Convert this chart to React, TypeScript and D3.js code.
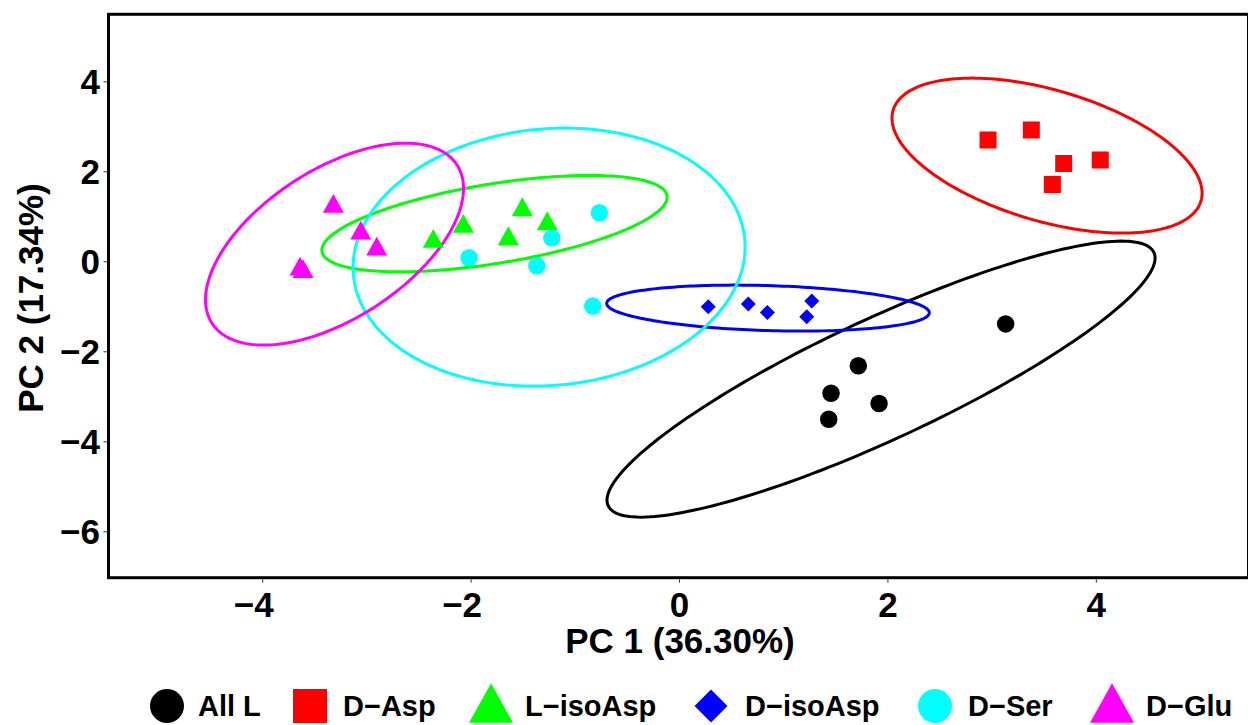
import React from "react";
import * as d3 from "d3";

// ---- data (PC scores) ----
const groups = ["All L", "D−Asp", "L−isoAsp", "D−isoAsp", "D−Ser", "D−Glu"];
const colors = ["#000000", "#FF0000", "#00FF00", "#0000FF", "#00FFFF", "#FF00FF"];
const shapes = ["circle", "square", "triangle", "diamond", "circle", "triangle"];

const allL_x = [3.13, 1.716, 1.454, 1.915, 1.432];
const allL_y = [-1.38, -2.31, -2.92, -3.15, -3.5];
const dAsp_x = [2.961, 3.376, 3.687, 4.038, 3.578];
const dAsp_y = [2.704, 2.927, 2.187, 2.26, 1.72];
const lIsoAsp_x = [-2.363, -2.075, -1.643, -1.509, -1.269];
const lIsoAsp_y = [0.52, 0.853, 0.578, 1.222, 0.911];
const dIsoAsp_x = [0.276, 0.66, 0.843, 1.269, 1.221];
const dIsoAsp_y = [-1.0, -0.94, -1.124, -0.873, -1.222];
const dSer_x = [-0.77, -1.226, -2.02, -1.37, -0.833];
const dSer_y = [1.089, 0.533, 0.089, -0.089, -0.984];
const dGlu_x = [-3.322, -3.059, -2.906, -3.642, -3.613];
const dGlu_y = [1.298, 0.704, 0.349, -0.096, -0.151];

const seriesX = [allL_x, dAsp_x, lIsoAsp_x, dIsoAsp_x, dSer_x, dGlu_x];
const seriesY = [allL_y, dAsp_y, lIsoAsp_y, dIsoAsp_y, dSer_y, dGlu_y];

// confidence ellipses: centre, half-width (x), half-height (y), correlation (data units)
const ellCx = [1.934, 3.527, -1.776, 0.849, -1.252, -3.311];
const ellCy = [-2.607, 2.36, 0.849, -1.029, 0.104, 0.393];
const ellRx = [2.63, 1.488, 1.657, 1.548, 1.881, 1.238];
const ellRy = [3.067, 1.722, 1.071, 0.511, 2.867, 2.244];
const ellRho = [0.877, -0.484, 0.55, -0.204, 0.08, 0.55];

const xTicks = [-4, -2, 0, 2, 4];
const yTicks = [4, 2, 0, -2, -4, -6];
const xTitle = "PC 1 (36.30%)";
const yTitle = "PC 2 (17.34%)";

const W = 1248;
const H = 725;
const left = 108.5;
const right = 1248.5;
const top = 14.3;
const bottom = 577.7;

const FONT = "'Liberation Sans', Arial, Helvetica, sans-serif";

function fmt(v: number) {
  return v < 0 ? "\u2212" + Math.abs(v) : String(v);
}

function markerPath(shape: string, size: number): string {
  const s = size / 2;
  if (shape === "circle") {
    return `M${-s},0A${s},${s} 0 1,0 ${s},0A${s},${s} 0 1,0 ${-s},0Z`;
  }
  if (shape === "square") {
    return `M${-s},${-s}L${s},${-s}L${s},${s}L${-s},${s}Z`;
  }
  if (shape === "diamond") {
    return `M0,${-s}L${s},0L0,${s}L${-s},0Z`;
  }
  const h = size * 0.9;
  return `M0,${-h / 2}L${s},${h / 2}L${-s},${h / 2}Z`;
}

const pointSize: Record<string, number> = { circle: 17.5, square: 17, triangle: 21, diamond: 15 };
const legendSize: Record<string, number> = { circle: 34, square: 34, triangle: 44, diamond: 33 };

const legendMarkerX = [167, 310, 491, 711, 935, 1112];
const legendTextX = [198, 343, 525, 745, 968, 1146];

export default function App() {
  const x = d3.scaleLinear().domain([-5.48, 5.45]).range([left, left + 10.93 * 104.2]);
  const y = d3.scaleLinear().domain([-7.02, 5.5]).range([bottom, top]);

  const line = d3
    .line<[number, number]>()
    .x((d) => x(d[0]))
    .y((d) => y(d[1]))
    .curve(d3.curveLinearClosed);

  const ellipses = ellCx.map((cx, i) => {
    const pts: [number, number][] = d3.range(0, 200).map((k) => {
      const t = (k / 200) * 2 * Math.PI;
      const r = ellRho[i];
      return [
        cx + ellRx[i] * Math.cos(t),
        ellCy[i] + ellRy[i] * (r * Math.cos(t) + Math.sqrt(1 - r * r) * Math.sin(t)),
      ];
    });
    return line(pts) as string;
  });

  return (
    <svg
      width={W}
      height={H}
      style={{ position: "absolute", left: 0, top: 0, background: "#fff" }}
      fontFamily={FONT}
    >
      <rect x={0} y={0} width={W} height={H} fill="#fff" />
      <defs>
        <clipPath id="panel">
          <rect x={left} y={top} width={right - left} height={bottom - top} />
        </clipPath>
      </defs>

      <g clipPath="url(#panel)">
        {ellipses.map((d, i) => (
          <path key={"e" + i} d={d} fill="none" stroke={colors[i]} strokeWidth={3} />
        ))}
        {seriesX.map((xs, gi) =>
          xs.map((vx, j) => (
            <path
              key={"p" + gi + "-" + j}
              d={markerPath(shapes[gi], pointSize[shapes[gi]])}
              transform={`translate(${x(vx)},${y(seriesY[gi][j])})`}
              fill={colors[gi]}
            />
          ))
        )}
      </g>

      <rect
        x={left}
        y={top}
        width={right - left}
        height={bottom - top}
        fill="none"
        stroke="#000"
        strokeWidth={3}
      />

      {xTicks.map((t) => (
        <g key={"xt" + t}>
          <line x1={x(t)} x2={x(t)} y1={bottom + 1.5} y2={bottom + 5} stroke="#333" strokeWidth={1} />
          <text
            x={x(t) - (t < 0 ? 9 : 0)}
            y={617}
            textAnchor="middle"
            fontSize={35}
            fontWeight="bold"
            fill="#000"
          >
            {fmt(t)}
          </text>
        </g>
      ))}
      <text x={680} y={653} textAnchor="middle" fontSize={35} fontWeight="bold" fill="#000">
        {xTitle}
      </text>

      {yTicks.map((t) => (
        <g key={"yt" + t}>
          <line x1={left - 5} x2={left - 1.5} y1={y(t)} y2={y(t)} stroke="#333" strokeWidth={1} />
          <text
            x={100}
            y={y(t) + 12.5}
            textAnchor="end"
            fontSize={35}
            fontWeight="bold"
            fill="#000"
          >
            {fmt(t)}
          </text>
        </g>
      ))}
      <text
        transform={`translate(43,298) rotate(-90)`}
        textAnchor="middle"
        fontSize={35}
        fontWeight="bold"
        fill="#000"
      >
        {yTitle}
      </text>

      {groups.map((g, i) => (
        <g key={"lg" + i}>
          <path
            d={markerPath(shapes[i], legendSize[shapes[i]])}
            transform={`translate(${legendMarkerX[i]},${shapes[i] === "triangle" ? 703 : 706})`}
            fill={colors[i]}
          />
          <text x={legendTextX[i]} y={716} fontSize={29} fontWeight="bold" fill="#000">
            {g}
          </text>
        </g>
      ))}
    </svg>
  );
}
